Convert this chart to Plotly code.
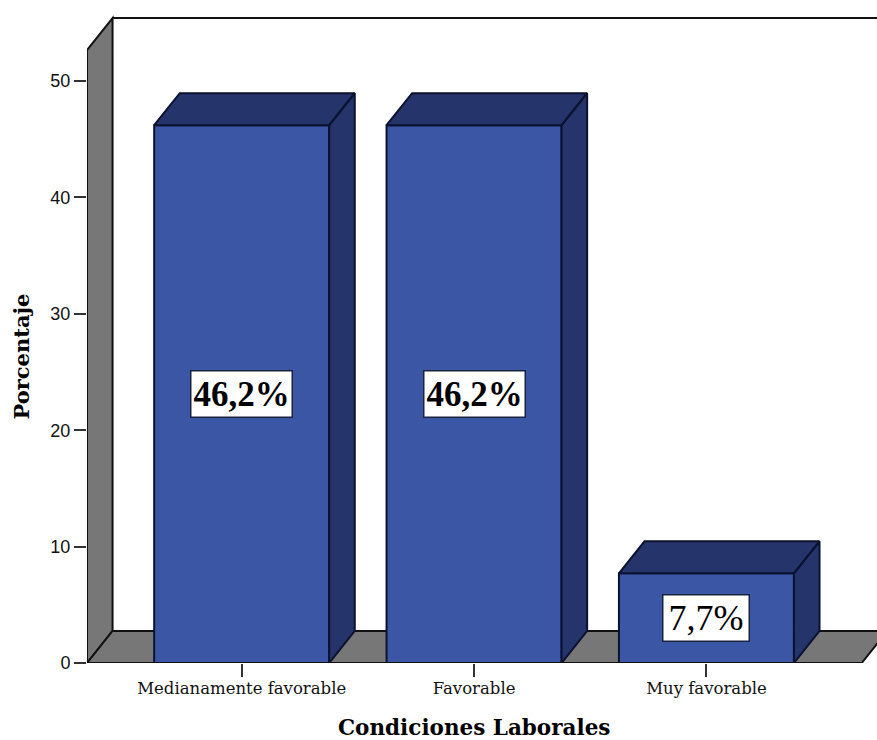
import plotly.graph_objects as go

# Values drawn as bars
categories = ["Medianamente favorable", "Favorable", "Muy favorable"]
percentages = [46.2, 46.2, 7.7]
label_bold = [True, True, False]
y_ticks = [0, 10, 20, 30, 40, 50]
x_title = "Condiciones Laborales"
y_title = "Porcentaje"

# Pseudo-3D box settings, in axis units
BAR_WIDTH = 0.7532
DEPTH_X = 0.11
DEPTH_Y = 2.75
X_LEFT = -0.6657
X_RIGHT = 2.734
FLOOR_RIGHT = 2.668
WALL_TOP = 52.66
Y_MAX = 56.27

FRONT = "#3C56A6"
SIDE = "#25356B"
EDGE = "#0B1230"
GREY = "#777777"
LINE = "#111111"
SERIF = "Liberation Serif"
WIDE_SERIF = "DejaVu Serif"


def poly(points):
    return "M" + " L".join(f"{x},{y}" for x, y in points) + " Z"


positions = list(range(len(categories)))
fig = go.Figure()

# Front faces
fig.add_bar(
    x=positions, y=percentages, width=BAR_WIDTH,
    marker=dict(color=FRONT, line=dict(color=EDGE, width=2)),
    cliponaxis=False, hoverinfo="skip",
)

# Side and top faces of each bar
for x, v in zip(positions, percentages):
    r = x + BAR_WIDTH / 2
    l = x - BAR_WIDTH / 2
    fig.add_scatter(
        x=[r, r + DEPTH_X, r + DEPTH_X, r, r, None, l, r, r + DEPTH_X, l + DEPTH_X, l],
        y=[0, DEPTH_Y, v + DEPTH_Y, v, 0, None, v, v, v + DEPTH_Y, v + DEPTH_Y, v],
        mode="lines", fill="toself", fillcolor=SIDE,
        line=dict(color=EDGE, width=2), hoverinfo="skip",
    )

# Front edges of the wall and floor sit on the plot boundary, so they skip clipping
fig.add_scatter(
    x=[X_LEFT, X_LEFT, None, X_LEFT, FLOOR_RIGHT],
    y=[WALL_TOP, 0, None, 0, 0],
    mode="lines", line=dict(color=LINE, width=2),
    cliponaxis=False, hoverinfo="skip",
)

left_wall = [(X_LEFT, 0), (X_LEFT, WALL_TOP), (X_LEFT + DEPTH_X, WALL_TOP + DEPTH_Y), (X_LEFT + DEPTH_X, DEPTH_Y)]
floor = [(X_LEFT, 0), (X_LEFT + DEPTH_X, DEPTH_Y), (FLOOR_RIGHT + DEPTH_X, DEPTH_Y), (FLOOR_RIGHT, 0)]
top_edge = [(X_LEFT + DEPTH_X, WALL_TOP + DEPTH_Y), (X_RIGHT, WALL_TOP + DEPTH_Y)]

shapes = [
    dict(type="path", path=poly(left_wall), xref="x", yref="y", layer="below",
         fillcolor=GREY, line=dict(color=LINE, width=2)),
    dict(type="path", path=poly(floor), xref="x", yref="y", layer="below",
         fillcolor=GREY, line=dict(color=LINE, width=2)),
    dict(type="line", xref="x", yref="y", layer="below",
         x0=top_edge[0][0], y0=top_edge[0][1], x1=top_edge[1][0], y1=top_edge[1][1],
         line=dict(color=LINE, width=2)),
]

# Value boxes centred on each front face
annotations = []
for x, v, bold in zip(positions, percentages, label_bold):
    text = f"{v:.1f}%".replace(".", ",")
    annotations.append(dict(
        x=x, y=v / 2, xref="x", yref="y", showarrow=False,
        text=f"<b>{text}</b>" if bold else text,
        width=98 if bold else 83, height=43,
        font=dict(family=SERIF, size=35 if bold else 36, color="#000000"),
        bgcolor="#FFFFFF", bordercolor="#1A2340", borderwidth=1.5, borderpad=1,
    ))

# Axis titles, centred on the front edge of the floor and of the wall
annotations.append(dict(
    x=(X_LEFT + FLOOR_RIGHT) / 2, y=0, xref="x", yref="paper", yshift=-64,
    xanchor="center", yanchor="middle", showarrow=False,
    text=f"<b>{x_title}</b>",
    font=dict(family=WIDE_SERIF, size=21.5, color="#000000"),
))
annotations.append(dict(
    x=0, y=WALL_TOP / 2, xref="paper", yref="y", xshift=-65,
    xanchor="center", yanchor="middle", textangle=-90, showarrow=False,
    text=f"<b>{y_title}</b>",
    font=dict(family=WIDE_SERIF, size=21, color="#000000"),
))

fig.update_layout(
    width=877, height=740, autosize=False,
    margin=dict(l=87, r=0, t=8, b=77),
    paper_bgcolor="#FFFFFF", plot_bgcolor="#FFFFFF",
    showlegend=False, hovermode=False,
    shapes=shapes, annotations=annotations,
    xaxis=dict(
        range=[X_LEFT, X_RIGHT], tickvals=positions, ticktext=categories,
        ticks="outside", ticklen=13, tickwidth=2, tickcolor="#333333",
        ticklabelstandoff=-3,
        tickfont=dict(family=WIDE_SERIF, size=16.5, color="#111111"),
        showgrid=False, zeroline=False, showline=False,
    ),
    yaxis=dict(
        range=[0, Y_MAX], tickvals=y_ticks,
        ticks="outside", ticklen=12, tickwidth=2, tickcolor="#333333",
        tickfont=dict(family="Liberation Sans", size=18, color="#111111"),
        showgrid=False, zeroline=False, showline=False,
    ),
)

fig.write_html("out.html", config={"displayModeBar": False})
